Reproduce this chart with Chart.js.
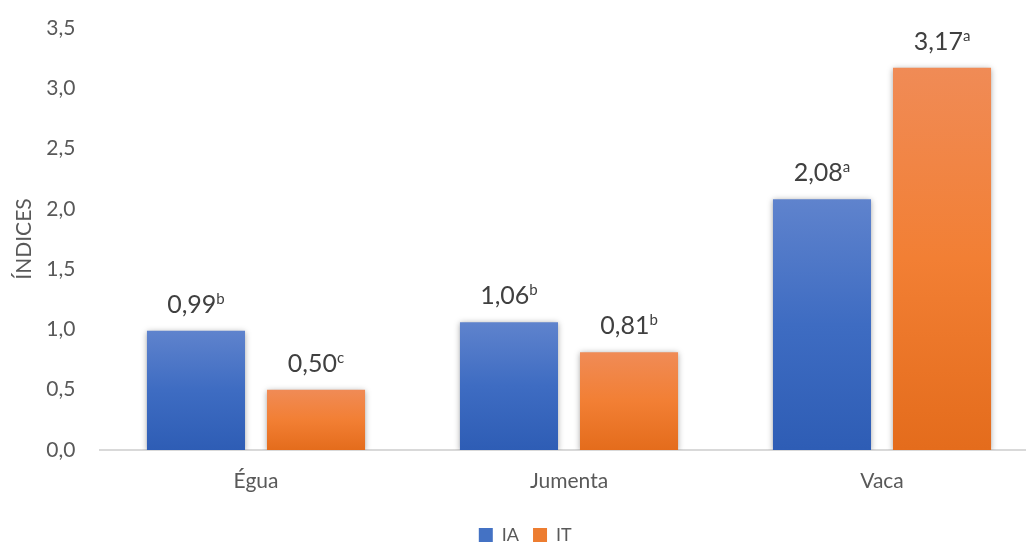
<!DOCTYPE html>
<html>
<head>
<meta charset="utf-8">
<script src="https://cdn.jsdelivr.net/npm/chart.js@4.4.1/dist/chart.umd.min.js"></script>
<style>
  html, body { margin: 0; padding: 0; background: #ffffff; overflow: hidden; }
  #wrap { position: relative; width: 1040px; height: 544px; }
</style>
</head>
<body>
<div id="wrap"><canvas id="c"></canvas></div>
<script>
const categories = ['Égua', 'Jumenta', 'Vaca'];
const seriesNames = ['IA', 'IT'];
const iaValues = [0.99, 1.06, 2.08];
const itValues = [0.50, 0.81, 3.17];
const iaLetters = ['b', 'b', 'a'];
const itLetters = ['c', 'b', 'a'];
const yTicks = [0, 0.5, 1, 1.5, 2, 2.5, 3, 3.5];

const FONT = 'Lato, "Open Sans", sans-serif';
const gradStops = {
  IA: ['#5f83cd', '#3e6cc2', '#2e5db5'],
  IT: ['#f08b56', '#f27f34', '#e46c1c']
};
const solid = { IA: '#4472c4', IT: '#ed7d31' };

function barGradient(ctx, name) {
  const chart = ctx.chart;
  if (!chart.chartArea || !chart.scales.y) return solid[name];
  const y = chart.scales.y;
  const v = ctx.raw;
  const top = y.getPixelForValue(v);
  const bot = y.getPixelForValue(0);
  const g = chart.ctx.createLinearGradient(0, top, 0, bot);
  const s = gradStops[name];
  g.addColorStop(0, s[0]);
  g.addColorStop(0.5, s[1]);
  g.addColorStop(1, s[2]);
  return g;
}

const lettersBySeries = [iaLetters, itLetters];

const labelPlugin = {
  id: 'barExtras',
  beforeDatasetsDraw(chart) {
    const c = chart.ctx;
    c.save();
    c.shadowColor = 'rgba(0,0,0,0.35)';
    c.shadowBlur = 6;
    c.shadowOffsetX = 0;
    c.shadowOffsetY = 1;
  },
  afterDatasetsDraw(chart) {
    const c = chart.ctx;
    c.restore();
    c.save();
    chart.data.datasets.forEach((ds, di) => {
      const meta = chart.getDatasetMeta(di);
      meta.data.forEach((bar, i) => {
        const txt = ds.data[i].toFixed(2).replace('.', ',');
        const sup = lettersBySeries[di][i];
        c.font = '25px ' + FONT;
        const w1 = c.measureText(txt).width;
        c.font = '15px ' + FONT;
        const w2 = c.measureText(sup).width;
        const total = w1 + w2;
        const x0 = bar.x - total / 2;
        const base = bar.y - 18;
        c.fillStyle = '#404040';
        c.textAlign = 'left';
        c.textBaseline = 'alphabetic';
        c.font = '25px ' + FONT;
        c.fillText(txt, x0, base);
        c.font = '15px ' + FONT;
        c.fillText(sup, x0 + w1, base - 9);
      });
    });
    c.restore();
  }
};

new Chart(document.getElementById('c'), {
  type: 'bar',
  data: {
    labels: categories,
    datasets: [
      { label: seriesNames[0], data: iaValues, backgroundColor: (ctx) => barGradient(ctx, 'IA'), borderWidth: 0 },
      { label: seriesNames[1], data: itValues, backgroundColor: (ctx) => barGradient(ctx, 'IT'), borderWidth: 0 }
    ]
  },
  options: {
    responsive: true,
    maintainAspectRatio: false,
    animation: false,
    layout: { autoPadding: false, padding: { top: 28, right: 1.5, left: 12, bottom: -10 } },
    datasets: { bar: { categoryPercentage: 0.767, barPercentage: 0.817 } },
    plugins: {
      legend: {
        position: 'bottom',
        labels: {
          boxWidth: 14, boxHeight: 14, padding: 14,
          color: '#595959',
          font: { family: FONT, size: 18 },
          generateLabels(chart) {
            return seriesNames.map((n, i) => ({
              text: n, fillStyle: solid[n], strokeStyle: solid[n], lineWidth: 0,
              hidden: false, datasetIndex: i, fontColor: '#595959'
            }));
          }
        }
      },
      tooltip: { enabled: false }
    },
    scales: {
      x: {
        grid: { display: false, drawTicks: false },
        border: { display: true, color: '#d9d9d9', width: 2 },
        ticks: { color: '#595959', font: { family: FONT, size: 21 }, padding: 19 },
        afterFit(s) { s.height = 62; }
      },
      y: {
        min: 0, max: 3.5,
        afterBuildTicks(s) { s.ticks = yTicks.map(v => ({ value: v })); },
        grid: { display: false, drawTicks: false },
        border: { display: false },
        ticks: {
          color: '#595959', font: { family: FONT, size: 21 }, padding: 24,
          callback: (v) => Number(v).toFixed(1).replace('.', ',')
        },
        title: {
          display: true, text: 'ÍNDICES', color: '#595959',
          font: { family: FONT, size: 21 }, padding: { top: 0, bottom: 0 }
        },
        afterFit(s) { s.width = 87.5; s.paddingTop = 10; s.paddingBottom = 10; }
      }
    }
  },
  plugins: [labelPlugin]
});
</script>
</body>
</html>
